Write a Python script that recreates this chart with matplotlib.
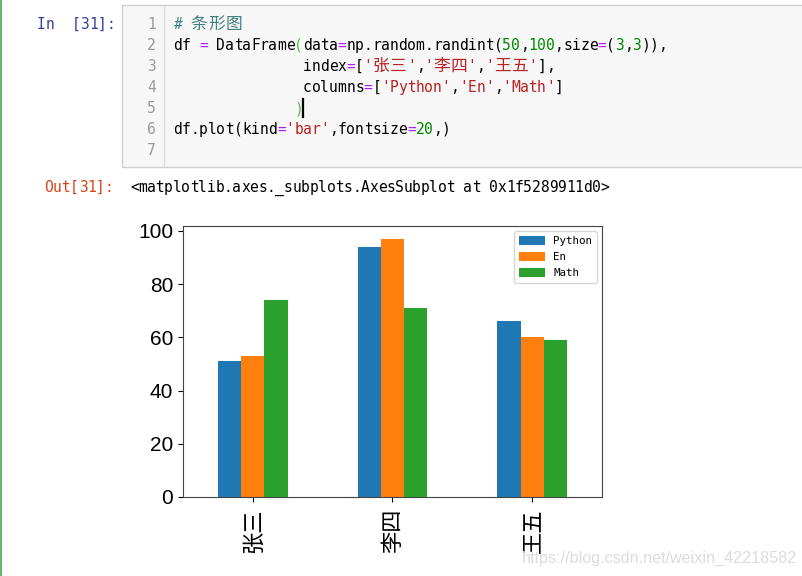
import matplotlib
matplotlib.use("Agg")
import matplotlib.pyplot as plt
from matplotlib.patches import Rectangle
from matplotlib.lines import Line2D
import numpy as np


W, H = 803, 576

# chart data
names = ['张三', '李四', '王五']
series_names = ['Python', 'En', 'Math']
python_scores = [51, 94, 66]
en_scores = [53, 97, 60]
math_scores = [74, 71, 59]
bar_colors = ['#1f77b4', '#ff7f0e', '#2ca02c']

# notebook cell colours
BLACK = '#000000'
PURPLE = '#AA22FF'
GREEN = '#008800'
RED = '#BA2121'
BRACKET = '#55bb44'
COMMENT = '#408080'

code_lines = [
    [("# 条形图", COMMENT)],
    [("df ", BLACK), ("=", PURPLE), (" DataFrame", BLACK), ("(", BRACKET),
     ("data", BLACK), ("=", PURPLE), ("np.random.randint(", BLACK),
     ("50", GREEN), (",", BLACK), ("100", GREEN), (",size", BLACK),
     ("=", PURPLE), ("(", BLACK), ("3", GREEN), (",", BLACK), ("3", GREEN),
     (")),", BLACK)],
    [(" " * 15 + "index", BLACK), ("=", PURPLE), ("[", BLACK), ("'张三'", RED),
     (",", BLACK), ("'李四'", RED), (",", BLACK), ("'王五'", RED), ("],", BLACK)],
    [(" " * 15 + "columns", BLACK), ("=", PURPLE), ("[", BLACK),
     ("'Python'", RED), (",", BLACK), ("'En'", RED), (",", BLACK),
     ("'Math'", RED), ("]", BLACK)],
    [(" " * 14, BLACK), (")", BRACKET)],
    [("df.plot(kind", BLACK), ("=", PURPLE), ("'bar'", RED),
     (",fontsize", BLACK), ("=", PURPLE), ("20", GREEN), (",)", BLACK)],
    [],
]

fig = plt.figure(figsize=(W / 100, H / 100), dpi=100)
fig.patch.set_facecolor('white')


def px(x, y):
    return x / W, 1 - y / H


def put_chars(x0, y_base, segments, cw, size=10.5, italic=False):
    # lay text out on a fixed grid, CJK characters take two columns
    col = 0
    for text, color in segments:
        for ch in text:
            wide = ord(ch) > 0x2E80
            span = 2 if wide else 1
            if ch != ' ':
                fig.text(*px(x0 + (col + span / 2) * cw, y_base), ch,
                         ha='center', va='baseline', color=color,
                         family='Noto Sans CJK SC' if wide else 'DejaVu Sans Mono',
                         fontsize=size * 1.15 if wide else size,
                         style='italic' if (italic and not wide) else 'normal')
            col += span


# green left border of the selected cell
fig.add_artist(Rectangle(px(0, H), 2 / W, 1, transform=fig.transFigure,
                         facecolor='#66BB6A', edgecolor='none'))

# code cell box and gutter
x0, y0 = px(122, 167)
fig.add_artist(Rectangle((x0, y0), 1, 162 / H, transform=fig.transFigure,
                         facecolor='#f7f7f7', edgecolor='#cfcfcf', lw=1))
fig.add_artist(Line2D([164 / W, 164 / W], [1 - 6 / H, 1 - 166 / H],
                      transform=fig.transFigure, color='#dddddd', lw=1))

CW = 8.67
put_chars(37, 29, [("In  [31]:", '#303F9F')], CW)

for i, segs in enumerate(code_lines):
    yb = 29 + 21 * i
    fig.text(*px(156, yb), str(i + 1), ha='right', va='baseline',
             color='#999999', family='DejaVu Sans Mono', fontsize=10.5)
    put_chars(173, yb, segs, CW, italic=(i == 0))

# cursor after the closing bracket
fig.add_artist(Line2D([303.5 / W, 303.5 / W], [1 - 99 / H, 1 - 117 / H],
                      transform=fig.transFigure, color='black', lw=1.6))

put_chars(44, 192, [("Out[31]:", '#D84315')], CW)
put_chars(130, 192, [("<matplotlib.axes._subplots.AxesSubplot at 0x1f5289911d0>", BLACK)], 8.55)

# the bar chart
ax = fig.add_axes([183 / W, (H - 497) / H, 419 / W, 271 / H])
x = np.arange(len(names))
width = 0.5 / 3
for k, (label, vals) in enumerate(zip(series_names, [python_scores, en_scores, math_scores])):
    ax.bar(x + (k - 1) * width, vals, width, color=bar_colors[k], label=label)

ax.set_xlim(-0.5, 2.5)
ax.set_xticks(x)
ax.set_xticklabels(names, rotation=90, family='Noto Sans CJK SC', fontsize=16,
                   fontweight='light')
ax.tick_params(axis='x', pad=5)
ax.set_yticks([0, 20, 40, 60, 80, 100])
for t in ax.get_yticklabels():
    t.set_family('Liberation Sans')
    t.set_fontsize(15)
for s in ax.spines.values():
    s.set_color('#444444')

ax.legend(loc='upper right', prop={'family': 'DejaVu Sans Mono', 'size': 7.8},
          handlelength=2.4, handleheight=0.9, labelspacing=0.55)

fig.text(*px(522, 558), "https://blog.csdn.net/weixin_42218582", ha='left', va='center',
         color='#dcdcdc', family='Liberation Sans', fontsize=11.6)

plt.savefig("out.png", dpi=100)
plt.close()
